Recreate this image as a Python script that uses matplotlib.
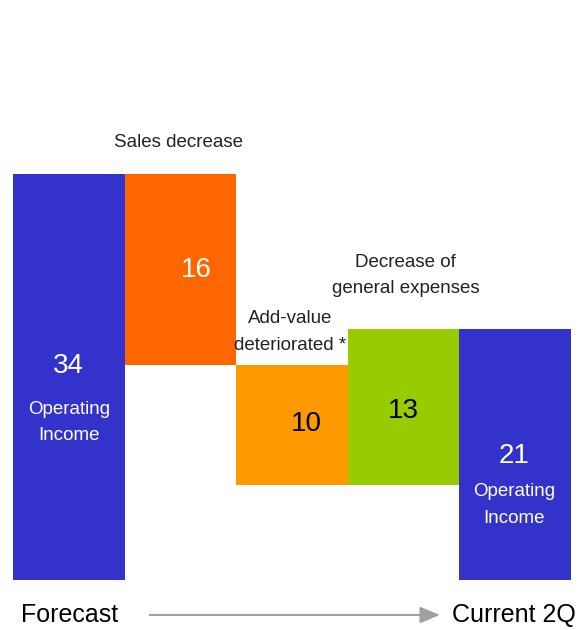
import matplotlib.pyplot as plt

plt.rcParams['font.family'] = ['Liberation Sans', 'DejaVu Sans']

# waterfall data
steps = ["Forecast", "Sales decrease", "Add-value\ndeteriorated *",
         "Decrease of\ngeneral expenses", "Current 2Q"]
start_value = 34
deltas = [-16, -10, 13]
end_value = 21
colors = ["#3333CC", "#FF6600", "#FF9900", "#99CC00", "#3333CC"]


def waterfall(start, changes, end):
    bottoms, heights = [0], [start]
    level = start
    for d in changes:
        new = level + d
        bottoms.append(min(level, new))
        heights.append(abs(d))
        level = new
    bottoms.append(0)
    heights.append(end)
    return bottoms, heights


def main():
    bottoms, heights = waterfall(start_value, deltas, end_value)
    xs = list(range(len(steps)))

    fig = plt.figure(figsize=(5.86, 6.30), dpi=100)
    ax = fig.add_axes([13 / 586, 50 / 630, 558 / 586, 580 / 630])
    ax.bar(xs, heights, bottom=bottoms, width=1.0, color=colors, linewidth=0)
    ax.set_xlim(-0.5, 4.5)
    ax.set_ylim(0, 48.6)
    ax.axis("off")

    # values inside bars
    ax.text(0, 17.9, str(start_value), color="white", fontsize=20, ha="center", va="center")
    ax.text(0, 13.2, "Operating\nIncome", color="white", fontsize=13.5, ha="center", va="center",
            linespacing=1.75)
    ax.text(1.14, 26.0, str(abs(deltas[0])), color="white", fontsize=20, ha="center", va="center")
    ax.text(2.13, 13.1, str(abs(deltas[1])), color="black", fontsize=20, ha="center", va="center")
    ax.text(3.0, 14.2, str(abs(deltas[2])), color="black", fontsize=20, ha="center", va="center")
    ax.text(3.99, 10.4, str(end_value), color="white", fontsize=20, ha="center", va="center")
    ax.text(3.99, 6.3, "Operating\nIncome", color="white", fontsize=13.5, ha="center", va="center",
            linespacing=1.75)

    # step captions
    ax.text(0.98, 36.7, steps[1], color="#222222", fontsize=13.5, ha="center", va="center")
    ax.text(1.98, 20.8, steps[2], color="#222222", fontsize=13.5, ha="center", va="center",
            linespacing=1.8)
    ax.text(3.02, 25.5, steps[3], color="#222222", fontsize=13.5, ha="center", va="center",
            linespacing=1.7)

    # bottom labels with arrow
    ax.text(0.01, -2.93, steps[0], fontsize=18, ha="center", va="center", clip_on=False)
    ax.text(3.99, -2.93, steps[4], fontsize=18, ha="center", va="center", clip_on=False)
    ax.annotate("", xy=(3.35, -2.93), xytext=(0.70, -2.93), annotation_clip=False,
                arrowprops=dict(arrowstyle="-|>,head_length=1.2,head_width=0.5",
                                color="#A0A0A0", lw=1.5))

    fig.savefig("out.png", dpi=100)


if __name__ == "__main__":
    main()
